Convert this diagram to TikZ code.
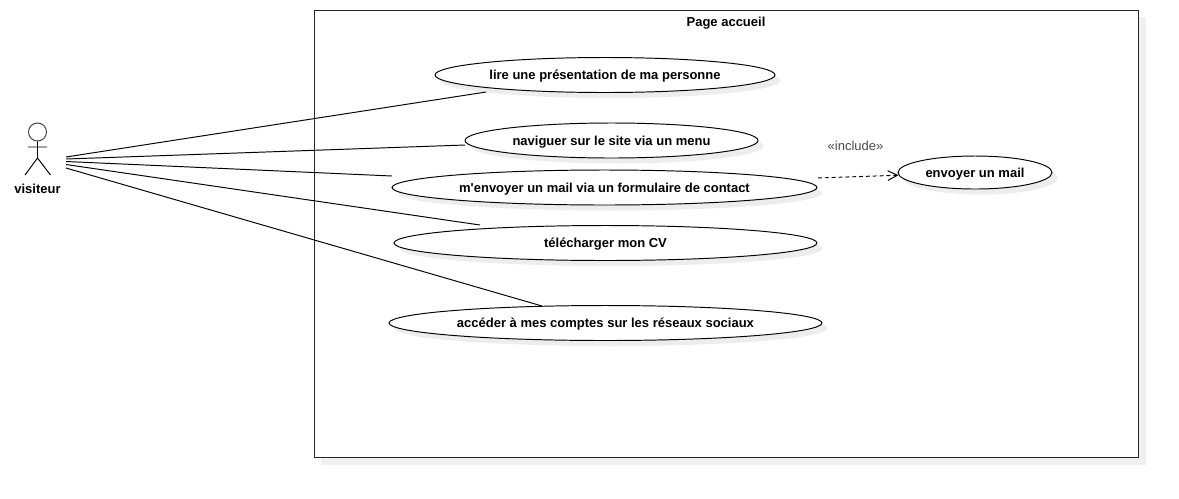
\documentclass[tikz,border=0pt]{standalone}
\usepackage{fontspec}
\setmainfont{Liberation Sans}
\usetikzlibrary{positioning, arrows.meta, shapes.geometric, shadows}
\begin{document}
\begin{tikzpicture}[x=0.02cm, y=-0.02cm, line width=0.55pt,
	soft/.style={drop shadow={shadow xshift=.11cm,shadow yshift=-.11cm,fill=black!7,opacity=1}},
	softer/.style={drop shadow={shadow xshift=.14cm,shadow yshift=-.14cm,fill=black!6,opacity=1}},
	usecase/.style={ellipse,draw,fill=white,soft,inner sep=0pt,minimum height=.7cm,text height=5.5pt,text depth=0pt,font=\fontsize{7.4}{9}\selectfont\bfseries},
	frontier/.style={rectangle,draw=black!85,fill=white,softer,inner sep=0pt,minimum width=16.5cm,minimum height=8.96cm},
	actorline/.style={draw=black!75},
	title/.style={font=\fontsize{7.4}{9}\selectfont\bfseries}]
	\useasboundingbox (0,0) rectangle (1179,498);
	\node[frontier] (page) at (726.5,234) {};
	\node[title] (pagetitle) at (726,23.5) {Page accueil};
	% cas d'utilisation
	\node[usecase,minimum width=6.8cm] (lire) at (605,75) {lire une présentation de ma personne};
	\node[usecase,minimum width=5.86cm] (naviguer) at (611.5,140.5) {naviguer sur le site via un menu};
	\node[usecase,minimum width=8.5cm] (contact) at (604.5,187.5) {m\textquotesingle envoyer un mail via un formulaire de contact};
	\node[usecase,minimum width=8.46cm] (cv) at (605.5,243) {télécharger mon CV};
	\node[usecase,minimum width=8.66cm] (reseaux) at (605.5,323) {accéder à mes comptes sur les réseaux sociaux};
	\node[usecase,minimum width=3.08cm,minimum height=.66cm] (mail) at (975,172.5) {envoyer un mail};
	% acteur
	\node[circle,draw,actorline,inner sep=0pt,minimum size=.36cm] (tete) at (37.5,132) {};
	\coordinate (cou) at (37.5,158);
	\coordinate (brasg) at (28,147);
	\coordinate (brasd) at (47,147);
	\coordinate (piedg) at (25,175);
	\coordinate (piedd) at (50.5,175);
	\draw (tete) -- (cou) (brasg) -- (brasd) (piedg) -- (cou) -- (piedd);
	\node[title] (visiteur) at (37.5,188.5) {visiteur};
	% liaisons
	\coordinate (a1) at (66,157);
	\coordinate (a2) at (66,159);
	\coordinate (a3) at (66,161.5);
	\coordinate (a4) at (66,164.5);
	\coordinate (a5) at (66,168);
	\coordinate (b1) at (486,92);
	\coordinate (b2) at (465,145);
	\coordinate (b3) at (392,176);
	\coordinate (b4) at (480,225);
	\coordinate (b5) at (542,306);
	\coordinate (c1) at (818,178);
	\path
	(a1) edge (b1)
	(a2) edge (b2)
	(a3) edge (b3)
	(a4) edge (b4)
	(a5) edge (b5)
	(c1) edge [dash pattern=on 2.2pt off 1.7pt,-{Straight Barb[length=5.5pt,width=5.5pt]}] (mail)
	;
	\node[text=black!70,font=\fontsize{7.4}{9}\selectfont] (include) at (855.5,145.5) {«include»};
\end{tikzpicture}
\end{document}
